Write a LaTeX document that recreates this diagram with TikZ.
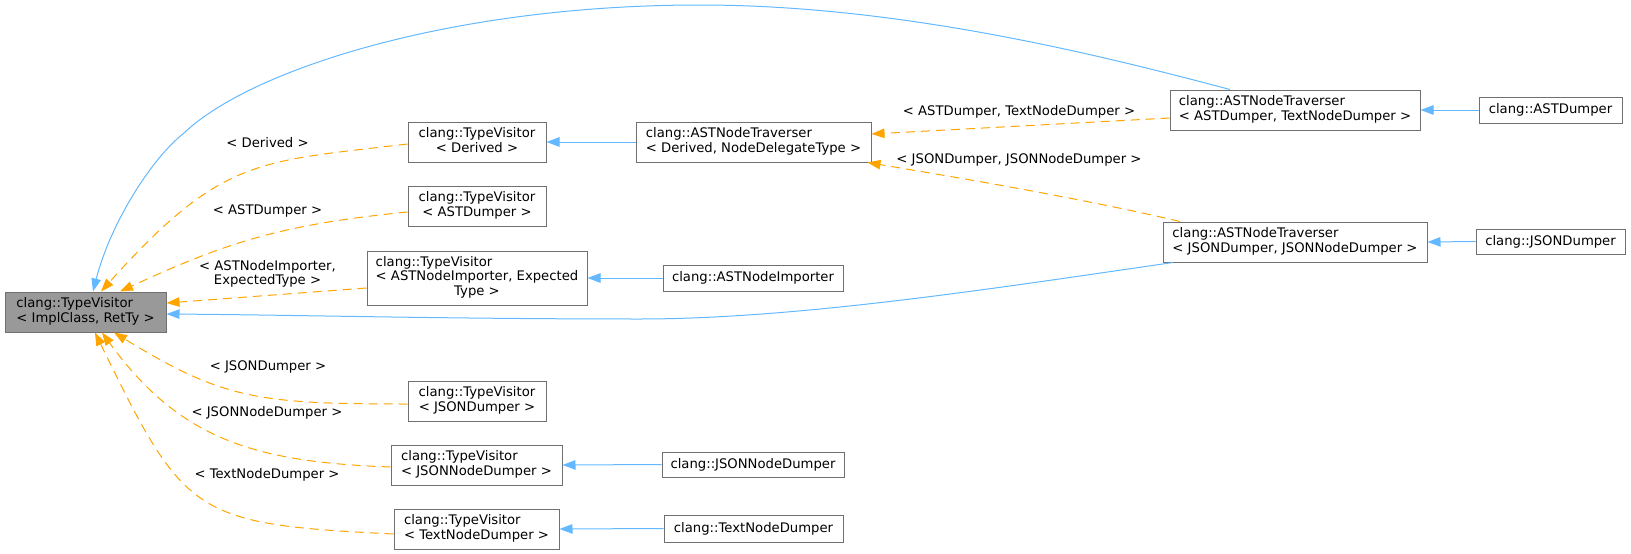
\documentclass[tikz,border=0pt]{standalone}
\usepackage{fontspec}
\setmainfont{DejaVu Sans}
\usetikzlibrary{arrows.meta}
\definecolor{edgeblue}{HTML}{63B8FF}
\definecolor{edgeorange}{HTML}{FFA500}
\definecolor{boxline}{HTML}{707070}
\definecolor{rootfill}{HTML}{999999}
\newcommand\twol[2]{\begin{tabular}{@{}l@{}}#1\\\multicolumn{1}{@{}c@{}}{#2}\end{tabular}}
\newcommand\twoc[2]{\begin{tabular}{@{}c@{}}#1\\#2\end{tabular}}
\tikzset{
  box/.style={draw=boxline, line width=1pt, fill=white, inner sep=0pt},
  wh/.style 2 args={minimum width=#1pt, minimum height=#2pt},
  lab/.style={inner sep=0pt},
  inh/.style={draw=edgeblue, line width=1pt, -{Triangle[length=13pt,width=9.5pt]}},
  tmpl/.style={draw=edgeorange, line width=1pt, dash pattern=on 9pt off 6pt, -{Triangle[length=13pt,width=9.5pt]}}
}
\begin{document}
\begin{tikzpicture}[x=1pt,y=-1pt,font=\fontsize{13.2}{14.3}\selectfont]
\useasboundingbox (0,0) rectangle (1631,554);
% nodes
\node[box, fill=rootfill, wh={161}{40}] (root) at (85.5,312) {\twol{clang::TypeVisitor}{< ImplClass, RetTy >}};
\node[box, wh={138}{40}] (tvder) at (477,142) {\twol{clang::TypeVisitor}{< Derived >}};
\node[box, wh={138}{40}] (tvast) at (477,206) {\twol{clang::TypeVisitor}{< ASTDumper >}};
\node[box, wh={220}{54}] (tvimp) at (477,278) {\twol{clang::TypeVisitor\\< ASTNodeImporter, Expected}{Type >}};
\node[box, wh={138}{40}] (tvjd) at (477,401) {\twol{clang::TypeVisitor}{< JSONDumper >}};
\node[box, wh={171}{40}] (tvjnd) at (476.5,465) {\twol{clang::TypeVisitor}{< JSONNodeDumper >}};
\node[box, wh={165}{40}] (tvtnd) at (476.5,529) {\twol{clang::TypeVisitor}{< TextNodeDumper >}};
\node[box, wh={235}{40}] (travder) at (753.5,142) {\twol{clang::ASTNodeTraverser}{< Derived, NodeDelegateType >}};
\node[box, wh={250}{40}] (travast) at (1295,110) {\twol{clang::ASTNodeTraverser}{< ASTDumper, TextNodeDumper >}};
\node[box, wh={264}{40}] (travjson) at (1295,242) {\twol{clang::ASTNodeTraverser}{< JSONDumper, JSONNodeDumper >}};
\node[box, wh={143}{26}] (astd) at (1550.5,110) {clang::ASTDumper};
\node[box, wh={149}{25}] (jsond) at (1550.5,241.5) {clang::JSONDumper};
\node[box, wh={180}{26}] (imp) at (753,278) {clang::ASTNodeImporter};
\node[box, wh={182}{25}] (jnd) at (753,464.5) {clang::JSONNodeDumper};
\node[box, wh={179}{27}] (tnd) at (753.5,528.5) {clang::TextNodeDumper};
% labels
\node[lab] (l1) at (267.5,143) {< Derived >};
\node[lab] (l2) at (267.5,211) {< ASTDumper >};
\node[lab] (l3) at (267.5,274.5) {\twoc{< ASTNodeImporter,}{ExpectedType >}};
\node[lab] (l4) at (268,367) {< JSONDumper >};
\node[lab] (l5) at (267,413) {< JSONNodeDumper >};
\node[lab] (l6) at (267,475) {< TextNodeDumper >};
\node[lab] (l7) at (1019,112) {< ASTDumper, TextNodeDumper >};
\node[lab] (l8) at (1019,160) {< JSONDumper, JSONNodeDumper >};
% blue inheritance edges
\draw[inh] ([xshift=-65pt]travast.north) .. controls (1100,55) and (900,5) .. (700,5) .. controls (450,5) and (250,70) .. (184,133) .. controls (150,160) and (110,225) .. ([xshift=7.5pt]root.north);
\draw[inh] ([xshift=-122pt]travjson.south) .. controls (1003,287) and (800,319) .. (640,319) .. controls (450,319) and (300,315) .. ([yshift=-2pt]root.east);
\draw[inh] (travder.west) -- (tvder.east);
\draw[inh] (astd.west) -- (travast.east);
\draw[inh] (jsond.west) -- (travjson.east);
\draw[inh] (imp.west) -- (tvimp.east);
\draw[inh] (jnd.west) -- (tvjnd.east);
\draw[inh] (tnd.west) -- (tvtnd.east);
% orange template edges
\draw[tmpl] ([yshift=-2pt]tvder.west) .. controls (257,162) and (222,157) .. ([xshift=15.5pt]root.north);
\draw[tmpl] ([yshift=-6pt]tvast.west) .. controls (287,224) and (231,240) .. ([xshift=34.5pt]root.north);
\draw[tmpl] ([yshift=-10pt]tvimp.west) -- ([yshift=9pt]root.east);
\draw[tmpl] ([yshift=-3pt]tvjd.west) .. controls (257,404) and (223,399) .. ([xshift=28.5pt]root.south);
\draw[tmpl] ([yshift=-2pt]tvjnd.west) .. controls (255,462) and (180,440) .. ([xshift=16.5pt]root.south);
\draw[tmpl] ([yshift=-5pt]tvtnd.west) .. controls (193,524) and (185,517) .. ([xshift=9.5pt]root.south);
\draw[tmpl] ([yshift=-8pt]travast.west) -- ([yshift=8pt]travder.east);
\draw[tmpl] ([xshift=-115pt]travjson.north) .. controls (1080,198) and (960,178) .. ([xshift=-4pt]travder.south east);
\end{tikzpicture}
\end{document}
